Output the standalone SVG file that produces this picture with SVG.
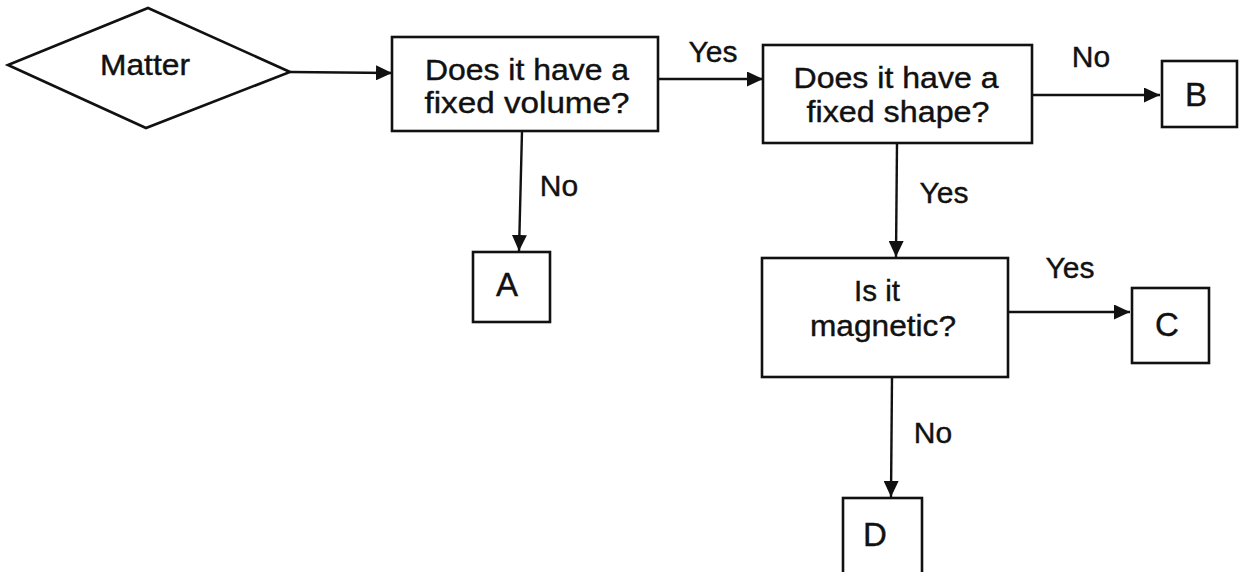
<svg xmlns="http://www.w3.org/2000/svg" width="1239" height="572" viewBox="0 0 1239 572">
  <style>
    .shape { fill: #ffffff; stroke: #111111; stroke-width: 2.6; }
    .line { fill: none; stroke: #111111; stroke-width: 2.4; }
    text { font-family: "Liberation Sans", Arial, sans-serif; fill: #111111; stroke: #111111; stroke-width: 0.4; text-anchor: middle; }
    .t { font-size: 29px; }
    .lbl { font-size: 30px; }
    .big { font-size: 33px; }
  </style>
  <defs>
    <marker id="arrow" markerUnits="userSpaceOnUse" markerWidth="17" markerHeight="15" refX="16" refY="7.5" orient="auto">
      <path d="M0,0 L16,7.5 L0,15 z" fill="#111111"/>
    </marker>
  </defs>
  <rect width="1239" height="572" fill="#ffffff"/>

  <g id="connectors">
    <line class="line" x1="290" y1="72" x2="392" y2="73" marker-end="url(#arrow)"/>
    <line class="line" x1="658" y1="79" x2="763" y2="79" marker-end="url(#arrow)"/>
    <line class="line" x1="1032" y1="95" x2="1160" y2="95" marker-end="url(#arrow)"/>
    <line class="line" x1="522" y1="131" x2="519" y2="251" marker-end="url(#arrow)"/>
    <line class="line" x1="897" y1="143" x2="896" y2="257" marker-end="url(#arrow)"/>
    <line class="line" x1="1008" y1="312" x2="1130" y2="312" marker-end="url(#arrow)"/>
    <line class="line" x1="892" y1="377" x2="891" y2="497" marker-end="url(#arrow)"/>
    <text class="lbl" x="713" y="62">Yes</text>
    <text class="lbl" x="1091" y="67">No</text>
    <text class="lbl" x="559" y="196">No</text>
    <text class="lbl" x="944" y="203">Yes</text>
    <text class="lbl" x="1070" y="278">Yes</text>
    <text class="lbl" x="933" y="443">No</text>
  </g>

  <g id="matter">
    <polygon class="shape" points="8,65 148,8 290,72 146,128"/>
    <text class="t" x="145" y="75" textLength="90" lengthAdjust="spacingAndGlyphs">Matter</text>
  </g>

  <g id="fixed-volume">
    <rect class="shape" x="392" y="37" width="266" height="94"/>
    <text class="t" x="527" y="80" textLength="204" lengthAdjust="spacingAndGlyphs">Does it have a</text>
    <text class="t" x="527" y="113" textLength="205" lengthAdjust="spacingAndGlyphs">fixed volume?</text>
  </g>

  <g id="fixed-shape">
    <rect class="shape" x="763" y="45" width="269" height="98"/>
    <text class="t" x="896" y="88" textLength="205" lengthAdjust="spacingAndGlyphs">Does it have a</text>
    <text class="t" x="898" y="122" textLength="183" lengthAdjust="spacingAndGlyphs">fixed shape?</text>
  </g>

  <g id="magnetic">
    <rect class="shape" x="762" y="258" width="246" height="119"/>
    <text class="t" x="877" y="301" textLength="46" lengthAdjust="spacingAndGlyphs">Is it</text>
    <text class="t" x="883" y="336" textLength="146" lengthAdjust="spacingAndGlyphs">magnetic?</text>
  </g>

  <g id="node-a">
    <rect class="shape" x="473" y="252" width="77" height="70"/>
    <text class="big" x="507" y="296">A</text>
  </g>

  <g id="node-b">
    <rect class="shape" x="1162" y="61" width="75" height="66"/>
    <text class="big" x="1196" y="106">B</text>
  </g>

  <g id="node-c">
    <rect class="shape" x="1132" y="288" width="77" height="75"/>
    <text class="big" x="1167" y="336">C</text>
  </g>

  <g id="node-d">
    <rect class="shape" x="843" y="498" width="79" height="80"/>
    <text class="big" x="875" y="546">D</text>
  </g>
</svg>
